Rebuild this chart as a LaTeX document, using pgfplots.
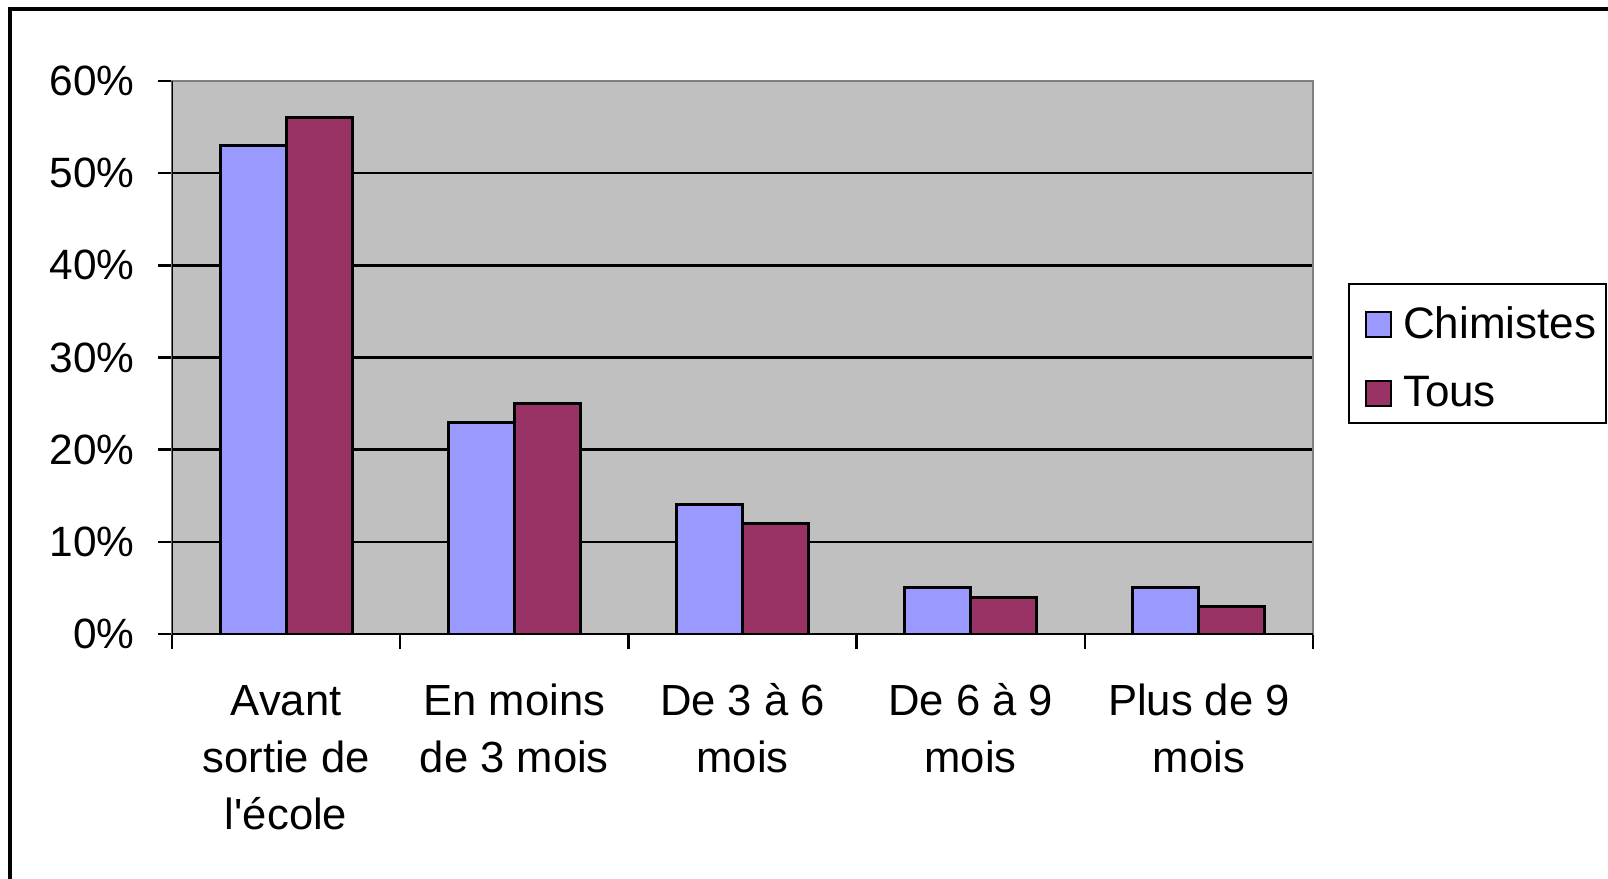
\documentclass[border=0pt]{standalone}
\usepackage{pgfplots}
\pgfplotsset{compat=1.18}
\usepackage{fontspec}
\setmainfont{Liberation Sans}
\definecolor{chim}{HTML}{9999FF}
\definecolor{tous}{HTML}{993366}
\definecolor{bgc}{HTML}{C0C0C0}
\definecolor{framec}{HTML}{808080}
\begin{document}
\begin{tikzpicture}[x=1pt,y=1pt]
\draw[black, line width=1.6pt] (5pt,-30pt) -- (5pt,435pt) -- (840pt,435pt);
\begin{axis}[
  at={(86pt,122.5pt)}, anchor=south west,
  scale only axis, width=570.5pt, height=276.5pt,
  xmin=-0.5, xmax=4.5, ymin=0, ymax=60,
  ybar=0pt, bar width=33pt,
  axis background/.style={fill=bgc},
  axis line style={draw=framec, line width=1.2pt},
  tick align=outside, tick pos=left,
  ytick={0,10,20,30,40,50,60},
  yticklabels={0\%,10\%,20\%,30\%,40\%,50\%,60\%},
  major tick length=7pt,
  minor tick length=7.5pt,
  ymajorgrids, major grid style={black, line width=1.2pt},
  xtick={0,1,2,3,4},
  minor xtick={-0.5,0.5,1.5,2.5,3.5,4.5},
  major x tick style={draw=none},
  minor x tick style={black, line width=1.2pt},
  major y tick style={black, line width=1.2pt},
  xticklabels={{\strut Avant\\sortie de\\l\textquotesingle école},{\strut En moins\\de 3 mois},{\strut De 3 à 6\\mois},{\strut De 6 à 9\\mois},{\strut Plus de 9\\mois}},
  xticklabel style={font=\fontsize{21.8}{28.5}\selectfont, align=center, anchor=north, inner sep=0pt, yshift=-13.4pt},
  yticklabel style={font=\fontsize{21.2}{25}\selectfont, anchor=east, inner sep=0pt, xshift=-11.5pt},
  legend style={at={(1,0.5)}, anchor=west, xshift=17.5pt, yshift=1.95pt,
    draw=black, line width=1pt, fill=white,
    font=\fontsize{22}{26}\selectfont,
    inner xsep=5pt, inner ysep=5pt, row sep=8.6pt,
    nodes={inner xsep=0pt, inner ysep=2pt}},
  legend cell align=left,
  legend image code/.code={\path[draw=none,fill=none] (-3.5pt,-0.1pt) rectangle (18.5pt,15pt);
     \draw[#1, line width=1pt] (0pt,-6.5pt) rectangle (12.5pt,6pt);},
]
\addplot[fill=chim, draw=black, line width=1.5pt] coordinates {(0,53) (1,23) (2,14) (3,5) (4,5)};
\addlegendentry{Chimistes}
\addplot[fill=tous, draw=black, line width=1.5pt] coordinates {(0,56) (1,25) (2,12) (3,4) (4,3)};
\addlegendentry{Tous}
\draw[framec, line width=1.2pt] (rel axis cs:0,1) -- (rel axis cs:1,1) -- (rel axis cs:1,0);
\draw[black, line width=1.5pt] (rel axis cs:0,1) -- (rel axis cs:0,0) -- (rel axis cs:1,0);
\end{axis}
\pgfresetboundingbox
\useasboundingbox (0,0) rectangle (804pt,439.5pt);
\end{tikzpicture}
\end{document}
